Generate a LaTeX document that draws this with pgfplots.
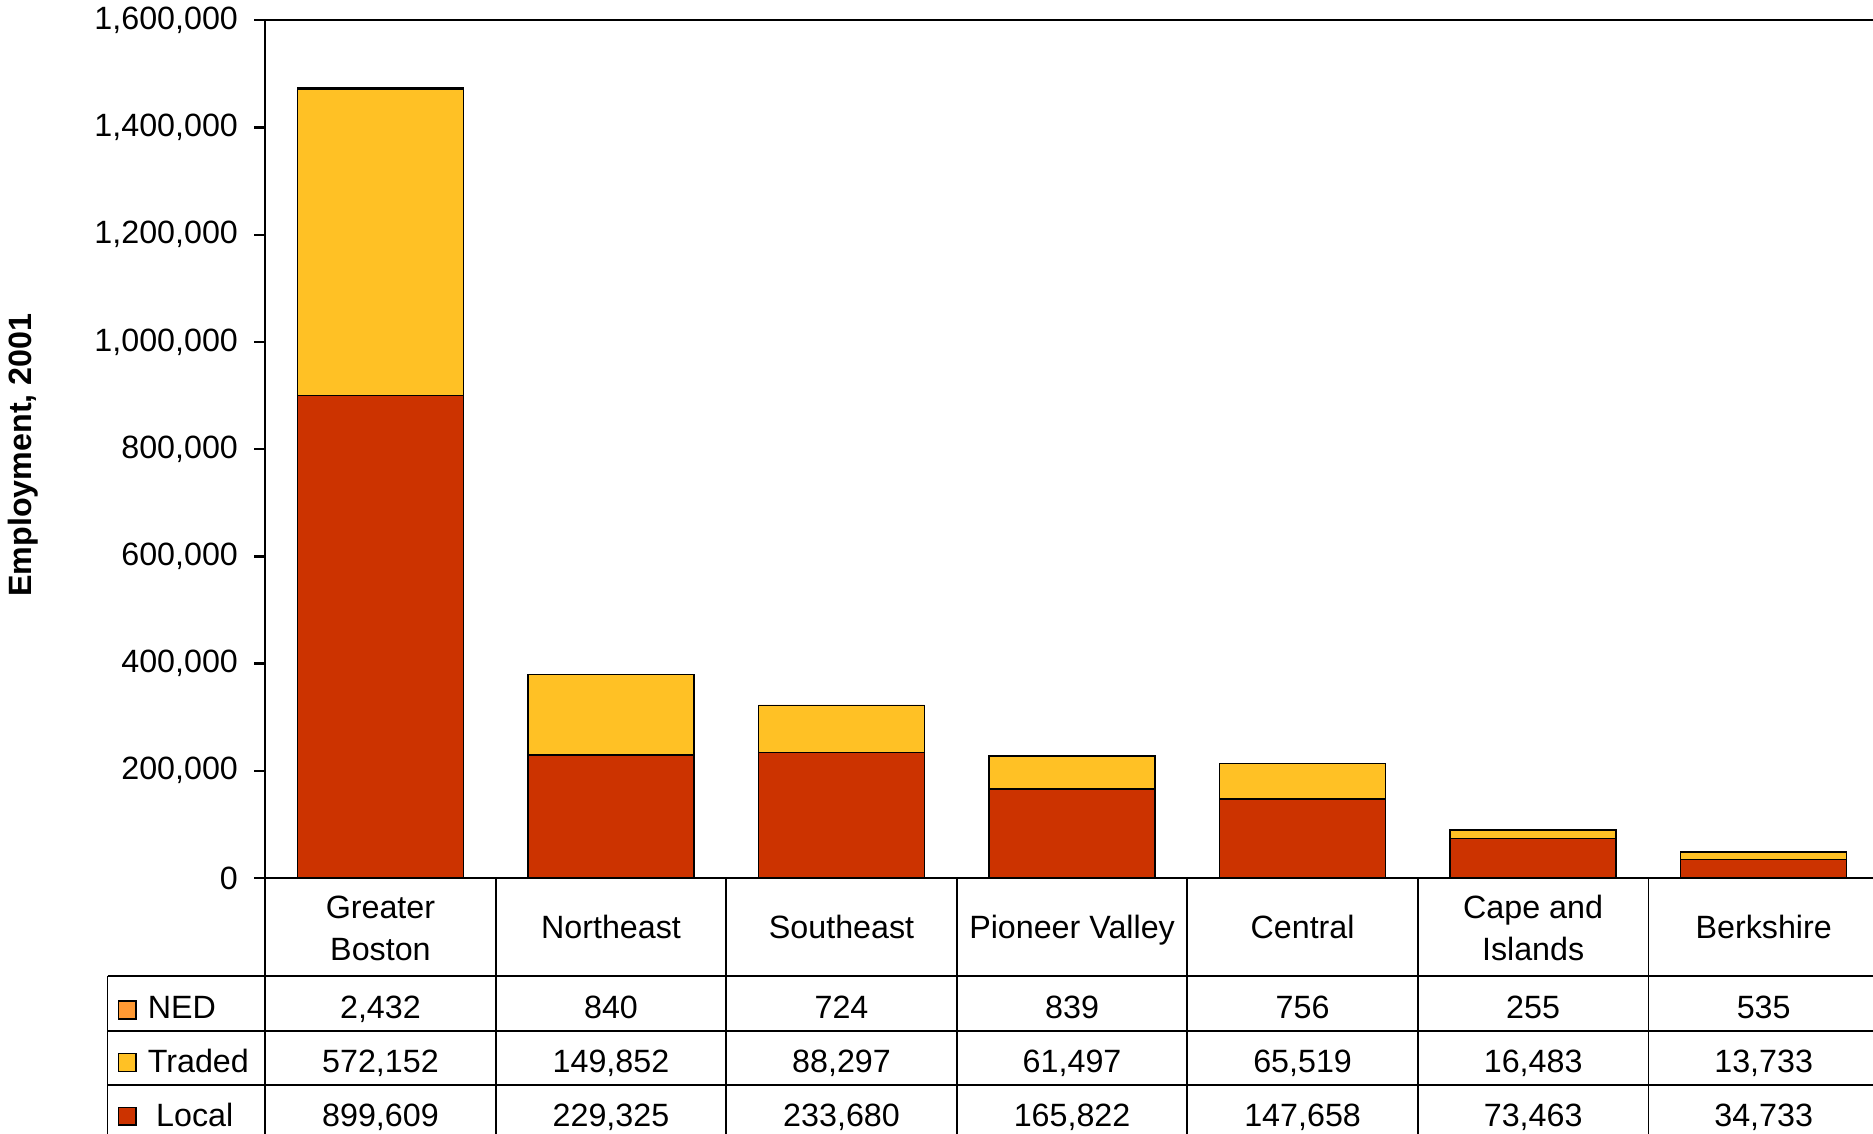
\documentclass[border=0pt]{standalone}
\usepackage{pgfplots}
\pgfplotsset{compat=1.18}
\usepackage{fontspec}
\setmainfont{Liberation Sans}
\definecolor{local}{HTML}{CC3300}
\definecolor{traded}{HTML}{FFC125}
\definecolor{ned}{HTML}{FF9933}

\begin{document}
\begin{tikzpicture}[font=\fontsize{10.8}{13}\selectfont]
\begin{scope}
\clip (0pt,0pt) rectangle (627.2pt,-379.6pt);
\begin{axis}[
  at={(88.8pt,-294pt)}, anchor=south west,
  scale only axis,
  width=540.4pt, height=287.2pt,
  xmin=-0.5, xmax=6.5,
  ymin=0, ymax=1600000,
  ybar stacked,
  bar width=0.72,
  xtick=\empty,
  ytick={0,200000,400000,600000,800000,1000000,1200000,1400000,1600000},
  ytick pos=left,
  tick align=outside,
  major tick length=3.6pt,
  scaled y ticks=false,
  y tick label style={xshift=-2pt, /pgf/number format/fixed, /pgf/number format/1000 sep={,}},
  /pgf/number format/assume math mode=true,
  axis line style={line width=0.8pt},
  tick style={line width=0.8pt, black},
]
\addplot[fill=local, draw=black, line width=0.5pt] coordinates {
  (0,899609) (1,229325) (2,233680) (3,165822) (4,147658) (5,73463) (6,34733)};
\addplot[fill=traded, draw=black, line width=0.5pt] coordinates {
  (0,572152) (1,149852) (2,88297) (3,61497) (4,65519) (5,16483) (6,13733)};
\addplot[fill=ned, draw=black, line width=0.3pt] coordinates {
  (0,2432) (1,840) (2,724) (3,839) (4,756) (5,255) (6,535)};
\end{axis}

% y axis title
\node[rotate=90, font=\fontsize{10.8}{13}\selectfont\bfseries] at (7.6pt,-152.4pt) {Employment, 2001};

% data table below the axis
\begin{scope}[x=0.4pt, y=-0.4pt, line width=0.6pt]
  \foreach \yy in {817,863,908} \draw (90,\yy) -- (1600,\yy);
  \draw (90,817) -- (90,960);
  \foreach \xx in {222,415,608,801,994,1187,1380} \draw (\xx,735) -- (\xx,960);
  % header
  \node[anchor=base] at (318.5,769) {Greater};
  \node[anchor=base] at (318.5,804) {Boston};
  \node[anchor=base] at (511.5,786) {Northeast};
  \node[anchor=base] at (704.5,786) {Southeast};
  \node[anchor=base] at (897.5,786) {Pioneer Valley};
  \node[anchor=base] at (1090.5,786) {Central};
  \node[anchor=base] at (1283.5,769) {Cape and};
  \node[anchor=base] at (1283.5,804) {Islands};
  \node[anchor=base] at (1476.5,786) {Berkshire};
  % row labels
  \draw[fill=ned, line width=0.5pt] (99,838) rectangle (114,853);
  \node[anchor=base west, inner sep=0pt] at (123,853) {NED};
  \draw[fill=traded, line width=0.5pt] (99,882) rectangle (114,897);
  \node[anchor=base west, inner sep=0pt] at (123,898) {Traded};
  \draw[fill=local, line width=0.5pt] (99,927) rectangle (114,942);
  \node[anchor=base west, inner sep=0pt] at (130,943) {Local};
  % values
  \foreach \xx/\n/\t/\l in {318.5/2{,}432/572{,}152/899{,}609,
      511.5/840/149{,}852/229{,}325,
      704.5/724/88{,}297/233{,}680,
      897.5/839/61{,}497/165{,}822,
      1090.5/756/65{,}519/147{,}658,
      1283.5/255/16{,}483/73{,}463,
      1476.5/535/13{,}733/34{,}733} {
    \node[anchor=base] at (\xx,853) {\n};
    \node[anchor=base] at (\xx,898) {\t};
    \node[anchor=base] at (\xx,943) {\l};
  }
\end{scope}
\end{scope}
\pgfresetboundingbox
\path[use as bounding box] (0pt,0pt) rectangle (627.2pt,-379.6pt);
\end{tikzpicture}
\end{document}
